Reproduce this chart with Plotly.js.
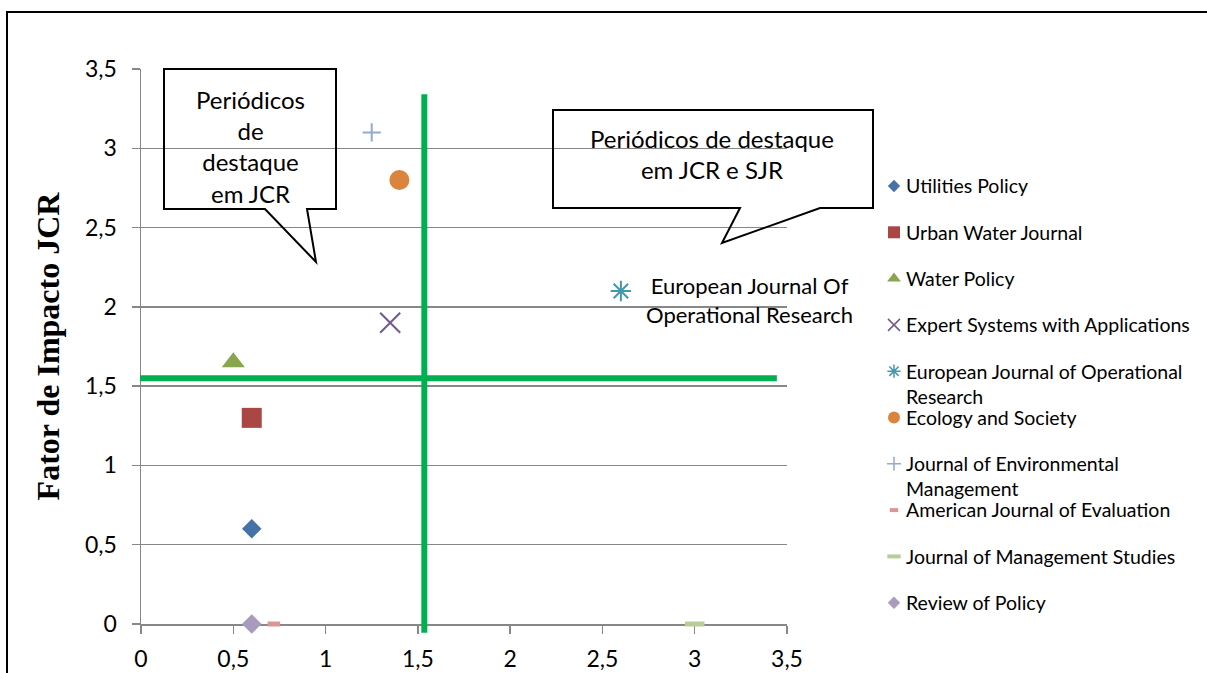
<!DOCTYPE html>
<html>
<head>
<meta charset="utf-8">
<script src="https://cdn.plot.ly/plotly-3.0.1.min.js"></script>
<style>
  html, body { margin: 0; padding: 0; background: #fff; }
  #wrap { position: relative; width: 1207px; height: 673px; overflow: hidden; }
  #chart { width: 1207px; height: 673px; }
  #frame { position: absolute; left: 6px; top: 11px; width: 1400px; height: 900px;
           border-left: 2px solid #000; border-top: 2px solid #000; pointer-events: none; }
</style>
</head>
<body>
<div id="wrap"><div id="chart"></div><div id="frame"></div></div>
<script>
// ---------------- DATA ----------------
const journals = ['Utilities Policy', 'Urban Water Journal', 'Water Policy',
  'Expert Systems with Applications', 'European Journal of Operational Research',
  'Ecology and Society', 'Journal of Environmental Management',
  'American Journal of Evaluation', 'Journal of Management Studies', 'Review of Policy'];
const legendLabels = ['Utilities Policy', 'Urban Water Journal', 'Water Policy',
  'Expert Systems with Applications', 'European Journal of Operational<br>Research',
  'Ecology and Society', 'Journal of Environmental<br>Management',
  'American Journal of Evaluation', 'Journal of Management Studies', 'Review of Policy'];
const sjrValues = [0.6, 0.6, 0.5, 1.35, 2.6, 1.4, 1.25, 0.72, 3.0, 0.6];
const jcrValues = [0.6, 1.3, 1.65, 1.9, 2.1, 2.8, 3.1, 0, 0, 0];
const thresholdSJR = 1.535;
const thresholdJCR = 1.55;
const tickValues = [0, 0.5, 1, 1.5, 2, 2.5, 3, 3.5];
const yTitle = 'Fator de Impacto JCR';
const calloutLeftText = 'Periódicos<br>de<br>destaque<br>em JCR';
const calloutRightText = 'Periódicos de destaque<br>em JCR e SJR';
const pointLabel = 'European Journal Of<br>Operational Research';

// ---------------- STYLES ----------------
const styles = [
  {color: '#4572A7', symbol: 'diamond', size: 15, lsize: 9.5},
  {color: '#AA4643', symbol: 'square', size: 20, lsize: 12},
  {color: '#89A54E', symbol: 'triangle-up', size: 20, lsize: 12},
  {color: '#71588F', symbol: 'x-thin-open', size: 20, lsize: 12, lw: 2},
  {color: '#4198AF', symbol: 'asterisk-open', size: 17, lsize: 11, lw: 2},
  {color: '#DB843D', symbol: 'circle', size: 20, lsize: 12},
  {color: '#93A9CF', symbol: 'cross-thin-open', size: 13, lsize: 10, lw: 2},
  {color: '#D99694', symbol: 'line-ew-open', size: 9, lsize: 6, lw: 5},
  {color: '#B9CD96', symbol: 'line-ew-open', size: 14, lsize: 9.5, lw: 5},
  {color: '#A99BBD', symbol: 'diamond', size: 15, lsize: 9.5}
];

const W = 1207, H = 673, ML = 141, MR = 0, MT = 69, MB = 49;
const plotRightPx = 787;
const PW = W - ML - MR, PH = H - MT - MB;
const DX = (plotRightPx - ML) / PW;           // x-domain end of main axes
const XMAX = 3.5, YMAX = 3.5;
const fx = px => (px - ML) / PW;               // pixel -> paper
const fy = py => (H - MB - py) / PH;
const dx = v => v / XMAX * DX;                 // data -> paper
const dy = v => v / YMAX;

const FONT = 'Lato, "Open Sans", sans-serif';
const GRID = '#878787';

// ---------------- TRACES ----------------
const traces = journals.map((name, i) => {
  const s = styles[i];
  const mk = {color: s.color, symbol: s.symbol, size: s.size};
  if (s.lw) mk.line = {color: s.color, width: s.lw};
  return {type: 'scatter', mode: 'markers', name: name,
    x: [sjrValues[i]], y: [jcrValues[i]], marker: mk,
    cliponaxis: false, showlegend: false, xaxis: 'x', yaxis: 'y'};
});

// custom legend (pixel-like axes on the right)
const LEG_LEFT = 866;
const legX = 894 - LEG_LEFT, legTextX = 904 - LEG_LEFT;
const legY0 = 186 - MT, legStep = 46.3;
const legendFont = 19.5;
const annotations = [];
journals.forEach((name, i) => {
  const s = styles[i];
  const mk = {color: s.color, symbol: s.symbol, size: s.lsize};
  if (s.lw) mk.line = {color: s.color, width: Math.max(1.5, s.lw - 1)};
  traces.push({type: 'scatter', mode: 'markers', name: name + ' (legenda)',
    x: [legX], y: [legY0 + i * legStep], marker: mk, showlegend: false,
    hoverinfo: 'skip', xaxis: 'x2', yaxis: 'y2', cliponaxis: false});
  annotations.push({xref: 'x2', yref: 'y2', x: legTextX, y: legY0 + i * legStep,
    text: legendLabels[i], showarrow: false, xanchor: 'left', yanchor: 'top',
    align: 'left', yshift: legendFont * 0.65 + 1,
    font: {family: FONT, size: legendFont, color: '#000'}});
});

// callout texts and point label
annotations.push({xref: 'paper', yref: 'paper', x: fx(250), y: fy(146), text: calloutLeftText,
  showarrow: false, xanchor: 'center', yanchor: 'middle', align: 'center',
  font: {family: FONT, size: 24, color: '#000'}});
annotations.push({xref: 'paper', yref: 'paper', x: fx(712), y: fy(154), text: calloutRightText,
  showarrow: false, xanchor: 'center', yanchor: 'middle', align: 'center',
  font: {family: FONT, size: 24, color: '#000'}});
annotations.push({xref: 'paper', yref: 'paper', x: fx(749), y: fy(300), text: pointLabel,
  showarrow: false, xanchor: 'center', yanchor: 'middle', align: 'center',
  font: {family: FONT, size: 22, color: '#000'}});

// ---------------- SHAPES ----------------
function poly(pts) {
  return 'M' + pts.map(p => fx(p[0]) + ',' + fy(p[1])).join('L') + 'Z';
}
const calloutLeft = [[164, 69], [336, 69], [336, 209], [307, 209], [316, 262], [265, 209], [164, 209]];
const calloutRight = [[553, 110], [873, 110], [873, 208], [820, 208], [722, 243], [740, 208], [553, 208]];
const shapes = [
  {type: 'line', xref: 'paper', yref: 'paper', layer: 'above',
   x0: dx(thresholdSJR), x1: dx(thresholdSJR), y0: dy(-0.055), y1: dy(3.34),
   line: {color: '#00B050', width: 6}},
  {type: 'line', xref: 'paper', yref: 'paper', layer: 'above',
   x0: dx(-0.005), x1: dx(3.445), y0: dy(thresholdJCR), y1: dy(thresholdJCR),
   line: {color: '#00B050', width: 6}},
  {type: 'path', xref: 'paper', yref: 'paper', layer: 'above', path: poly(calloutLeft),
   line: {color: '#000', width: 2}, fillcolor: 'rgba(0,0,0,0)'},
  {type: 'path', xref: 'paper', yref: 'paper', layer: 'above', path: poly(calloutRight),
   line: {color: '#000', width: 2}, fillcolor: 'rgba(0,0,0,0)'}
];

// ---------------- LAYOUT ----------------
const axisCommon = {
  range: [0, 3.5], tickvals: tickValues, showline: true, linecolor: GRID, linewidth: 1.5,
  ticks: 'outside', ticklen: 8, tickwidth: 1.5, tickcolor: GRID, zeroline: false,
  layer: 'below traces',
  tickfont: {family: FONT, size: 23, color: '#000'}, fixedrange: true
};
const layout = {
  width: W, height: H, margin: {l: ML, r: MR, t: MT, b: MB},
  paper_bgcolor: '#fff', plot_bgcolor: 'rgba(0,0,0,0)',
  separators: ',.', showlegend: false, hovermode: 'closest',
  xaxis: Object.assign({}, axisCommon, {domain: [0, DX], showgrid: false, anchor: 'y',
    ticklabelstandoff: 6}),
  yaxis: Object.assign({}, axisCommon, {domain: [0, 1], showgrid: true, gridcolor: GRID,
    gridwidth: 1.5, anchor: 'x', ticklabelstandoff: 10,
    title: {text: '<b>' + yTitle + '</b>', standoff: 16,
      font: {family: '"Liberation Serif", "Times New Roman", serif', size: 32, color: '#000'}}}),
  xaxis2: {domain: [fx(LEG_LEFT), 1], range: [0, W - LEG_LEFT], anchor: 'y2', visible: false, fixedrange: true},
  yaxis2: {domain: [0, 1], range: [PH, 0], anchor: 'x2', visible: false, fixedrange: true},
  shapes: shapes, annotations: annotations
};

Plotly.newPlot('chart', traces, layout, {displayModeBar: false, staticPlot: true});
</script>
</body>
</html>
